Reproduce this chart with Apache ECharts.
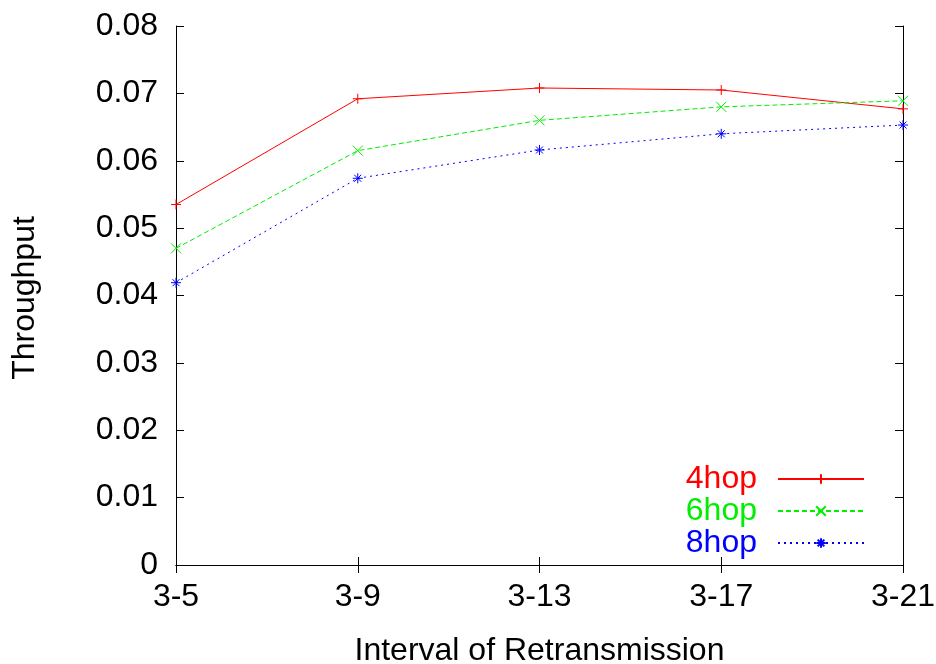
<!DOCTYPE html>
<html>
<head>
<meta charset="utf-8">
<script src="https://cdn.jsdelivr.net/npm/echarts@6/dist/echarts.min.js"></script>
<style>html,body{margin:0;padding:0;background:#fff;}#c{width:936px;height:664px;}</style>
</head>
<body>
<div id="c"></div>
<script>
var categories = ['3-5', '3-9', '3-13', '3-17', '3-21'];
var hop4 = [0.0535, 0.0692, 0.0708, 0.0705, 0.0677];
var hop6 = [0.0470, 0.0615, 0.0660, 0.0680, 0.0689];
var hop8 = [0.0419, 0.0574, 0.0616, 0.0640, 0.0653];
var seriesNames = ['4hop', '6hop', '8hop'];
var yTicks = [0, 0.01, 0.02, 0.03, 0.04, 0.05, 0.06, 0.07, 0.08];

var FONT = 'Liberation Sans, Arial, sans-serif';
var FS = 32;
var plus = 'path://M5,0L5,10M0,5L10,5';
var cross = 'path://M0,0L10,10M10,0L0,10';
var star = 'path://M5,0L5,10M0,5L10,5M1.5,1.5L8.5,8.5M8.5,1.5L1.5,8.5';

function mk(name, data, color, type, sym) {
  return {
    name: name, type: 'line', data: data,
    symbol: sym, symbolSize: 10,
    showAllSymbol: true,
    lineStyle: {color: color, width: 1, type: type},
    itemStyle: {color: color, borderColor: color, borderWidth: 1},
    emphasis: {disabled: true},
    animation: false,
    z: 3
  };
}

var chart = echarts.init(document.getElementById('c'), null, {renderer: 'canvas'});
chart.setOption({
  backgroundColor: '#fff',
  animation: false,
  grid: {left: 176, right: 33, top: 26, bottom: 99, show: false, containLabel: false, outerBoundsMode: 'none'},
  legend: {
    orient: 'vertical',
    right: 66, top: 458,
    align: 'right',
    itemWidth: 86, itemHeight: 12,
    itemGap: 0,
    textStyle: {fontFamily: FONT, fontSize: FS, lineHeight: 32, padding: [0, 16, 0, 0]},
    data: seriesNames.map(function (n, i) {
      return {name: n, textStyle: {color: ['#ff0000', '#00ee00', '#0000ff'][i]}};
    }),
    selectedMode: false
  },
  xAxis: [{
    type: 'category', data: categories, boundaryGap: false,
    name: 'Interval of Retransmission', nameLocation: 'middle', nameGap: 70,
    nameTextStyle: {fontFamily: FONT, fontSize: FS, color: '#000'},
    axisLine: {show: true, lineStyle: {color: '#000', width: 1}},
    axisTick: {show: true, inside: true, length: 8, alignWithLabel: true, lineStyle: {color: '#000'}},
    axisLabel: {fontFamily: FONT, fontSize: FS, color: '#000', margin: 16},
    splitLine: {show: false}
  }, {
    type: 'category', data: categories, boundaryGap: false, position: 'top',
    axisLine: {show: true, lineStyle: {color: '#000', width: 1}},
    axisTick: {show: true, inside: true, length: 8, lineStyle: {color: '#000'}},
    axisLabel: {show: false}, splitLine: {show: false}
  }],
  yAxis: [{
    type: 'value', min: 0, max: 0.08, interval: 0.01,
    axisLine: {show: true, lineStyle: {color: '#000', width: 1}},
    axisTick: {show: true, inside: true, length: 8, lineStyle: {color: '#000'}},
    axisLabel: {fontFamily: FONT, fontSize: FS, color: '#000', margin: 18,
      formatter: function (v) {
        var best = yTicks.reduce(function (a, b) { return Math.abs(b - v) < Math.abs(a - v) ? b : a; });
        return best === 0 ? '0' : best.toFixed(2);
      }},
    splitLine: {show: false}
  }, {
    type: 'value', min: 0, max: 0.08, interval: 0.01, position: 'right',
    axisLine: {show: true, lineStyle: {color: '#000', width: 1}},
    axisTick: {show: true, inside: true, length: 8, lineStyle: {color: '#000'}},
    axisLabel: {show: false}, splitLine: {show: false}
  }],
  graphic: [{
    type: 'text', x: 25, y: 298, rotation: Math.PI / 2,
    style: {text: 'Throughput', font: FS + 'px ' + FONT, fill: '#000', align: 'center', verticalAlign: 'middle'}
  }],
  series: [
    mk(seriesNames[0], hop4, '#ff0000', 'solid', plus),
    mk(seriesNames[1], hop6, '#00ee00', [5, 3], cross),
    mk(seriesNames[2], hop8, '#0000ff', [2, 4], star)
  ]
});
</script>
</body>
</html>
